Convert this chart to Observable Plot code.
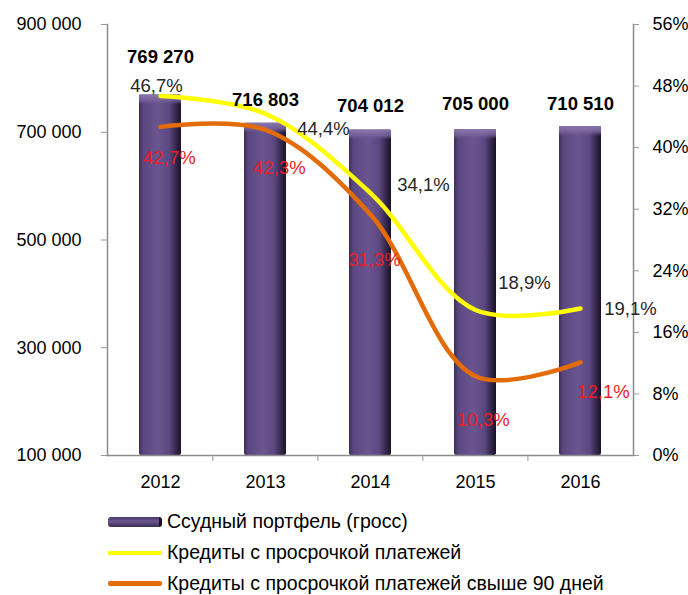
<!DOCTYPE html>
<html>
<head>
<meta charset="utf-8">
<script src="https://cdn.jsdelivr.net/npm/d3@7"></script>
<script src="https://cdn.jsdelivr.net/npm/@observablehq/plot@0.6"></script>
<style>
  body { margin: 0; background: #fff; font-family: "Liberation Sans", Arial, sans-serif; }
  #chart { width: 688px; }
  .legend { padding-top: 11px; }
  .row { display: flex; align-items: center; height: 31px; font-size: 19.5px; color: #000; white-space: nowrap; }
  .sw { margin-left: 108px; width: 54px; margin-right: 5px; flex: none; }
  .sw.bar { height: 10px; border-radius: 3px; background: linear-gradient(to bottom, #4a3a66, #6a5590 45%, #3a2c52); border-right: 3px solid #1a1228; width: 51px; }
  .sw.yel { height: 4px; background: #ffff00; }
  .sw.ora { height: 5px; background: #e36c09; border-radius: 2px; }
</style>
</head>
<body>
<div id="chart"></div>
<script>
// ---- data ----
const years = ["2012", "2013", "2014", "2015", "2016"];
const portfolio = [769270, 716803, 704012, 705000, 710510];
const overdue = [46.7, 44.4, 34.1, 18.9, 19.1];
const overdue90 = [42.7, 42.3, 31.3, 10.3, 12.1];
const leftTicks = [100000, 300000, 500000, 700000, 900000];
const rightTicks = [0, 8, 16, 24, 32, 40, 48, 56];
const legendLabels = ["Ссудный портфель (гросс)", "Кредиты с просрочкой платежей", "Кредиты с просрочкой платежей свыше 90 дней"];

// ---- layout (label offsets in px) ----
const barLabelOff = [[0, -38], [0, -23], [0, -24], [0, -25], [0, -23]];
const yelLabelOff = [[-4, -10], [58, 15], [53, -8], [49, -27], [50, 1]];
const oraLabelOff = [[9, 31], [14, 38], [4, 45], [8, 44], [23, 30]];

const yMin = 100000, yMax = 900000, pMax = 56;
const toY = p => yMin + p / pMax * (yMax - yMin);
const fromY = v => (v - yMin) / (yMax - yMin) * pMax;

const fmt = d3.formatLocale({thousands: " ", grouping: [3], decimal: ",", currency: ["", ""]}).format(",");
const pct = v => v.toFixed(1).replace(".", ",") + "%";

const idx = years.map((_, i) => i);
const bars = idx.map(i => ({year: years[i], v: portfolio[i]}));
const yel = idx.map(i => ({year: years[i], y: toY(overdue[i]), v: overdue[i]}));
const ora = idx.map(i => ({year: years[i], y: toY(overdue90[i]), v: overdue90[i]}));

const marks = [
  Plot.barY(bars, {x: "year", y1: yMin, y2: "v", fill: "url(#barGrad)", rx: 2}),
  Plot.barY(bars, {x: "year", y1: "v", y2: "v", insetBottom: -10, fill: "url(#capGrad)"}),
  Plot.ruleY([yMin], {stroke: "#8c8c8c", strokeWidth: 1.5}),
  Plot.frame({anchor: "left", stroke: "#8c8c8c", strokeWidth: 1.5}),
  Plot.frame({anchor: "right", stroke: "#8c8c8c", strokeWidth: 1.5}),
  Plot.ruleX(years.slice(1), {x: d => d, dx: -52.6, y1: yMin, y2: yMin, insetBottom: -6, stroke: "#9a9a9a"}),
  Plot.axisX({tickSize: 0, tickPadding: 20, fontSize: 18, fill: "#000", label: null}),
  Plot.axisY(leftTicks, {anchor: "left", tickSize: 6, tickPadding: 20, stroke: "#9a9a9a", fill: "#000", fontSize: 18, tickFormat: fmt, label: null}),
  Plot.axisY(rightTicks.map(toY), {anchor: "right", tickSize: 5, tickPadding: 14, stroke: "#9a9a9a", fill: "#000", fontSize: 18, tickFormat: d => Math.round(fromY(d)) + "%", label: null}),
  Plot.line(yel, {x: "year", y: "y", stroke: "#ffff00", strokeWidth: 4.5, curve: "catmull-rom"}),
  Plot.line(ora, {x: "year", y: "y", stroke: "#e36c09", strokeWidth: 4.5, curve: "catmull-rom"}),
  ...idx.map(i => Plot.text([bars[i]], {x: "year", y: "v", text: d => fmt(d.v), dx: barLabelOff[i][0], dy: barLabelOff[i][1], fontWeight: "bold", fontSize: 18.5, fill: "#000"})),
  ...idx.map(i => Plot.text([yel[i]], {x: "year", y: "y", text: d => pct(d.v), dx: yelLabelOff[i][0], dy: yelLabelOff[i][1], fontSize: 18.5, fill: "#262626"})),
  ...idx.map(i => Plot.text([ora[i]], {x: "year", y: "y", text: d => pct(d.v), dx: oraLabelOff[i][0], dy: oraLabelOff[i][1], fontSize: 18.5, fill: "#ee1c25"}))
];

const svg = Plot.plot({
  width: 688,
  height: 495,
  marginLeft: 107,
  marginRight: 55,
  marginTop: 24,
  marginBottom: 40,
  style: {fontFamily: "Liberation Sans, Arial, sans-serif", fontSize: "18px", background: "#fff"},
  x: {type: "band", domain: years, paddingInner: 0.6, paddingOuter: 0.3},
  y: {domain: [yMin, yMax]},
  marks
});

// gradients for the cylinder-like bars
const defs = d3.select(svg).insert("defs", ":first-child");
const g = defs.append("linearGradient").attr("id", "barGrad").attr("x1", 0).attr("x2", 1).attr("y1", 0).attr("y2", 0);
[["0%", "#3b2d55"], ["10%", "#5b4780"], ["45%", "#6a5590"], ["72%", "#5c4881"], ["86%", "#3a2c54"], ["100%", "#1a1228"]]
  .forEach(([o, c]) => g.append("stop").attr("offset", o).attr("stop-color", c));
const c = defs.append("linearGradient").attr("id", "capGrad").attr("x1", 0).attr("x2", 0).attr("y1", 0).attr("y2", 1);
[["0%", "#8b77ad", 1], ["60%", "#7a659e", 0.8], ["100%", "#6a5590", 0]]
  .forEach(([o, col, op]) => c.append("stop").attr("offset", o).attr("stop-color", col).attr("stop-opacity", op));

document.getElementById("chart").appendChild(svg);

// legend
const leg = d3.select("#chart").append("div").attr("class", "legend");
const swCls = ["bar", "yel", "ora"];
legendLabels.forEach((t, i) => {
  const r = leg.append("div").attr("class", "row");
  r.append("div").attr("class", "sw " + swCls[i]);
  r.append("span").text(t);
});
</script>
</body>
</html>
